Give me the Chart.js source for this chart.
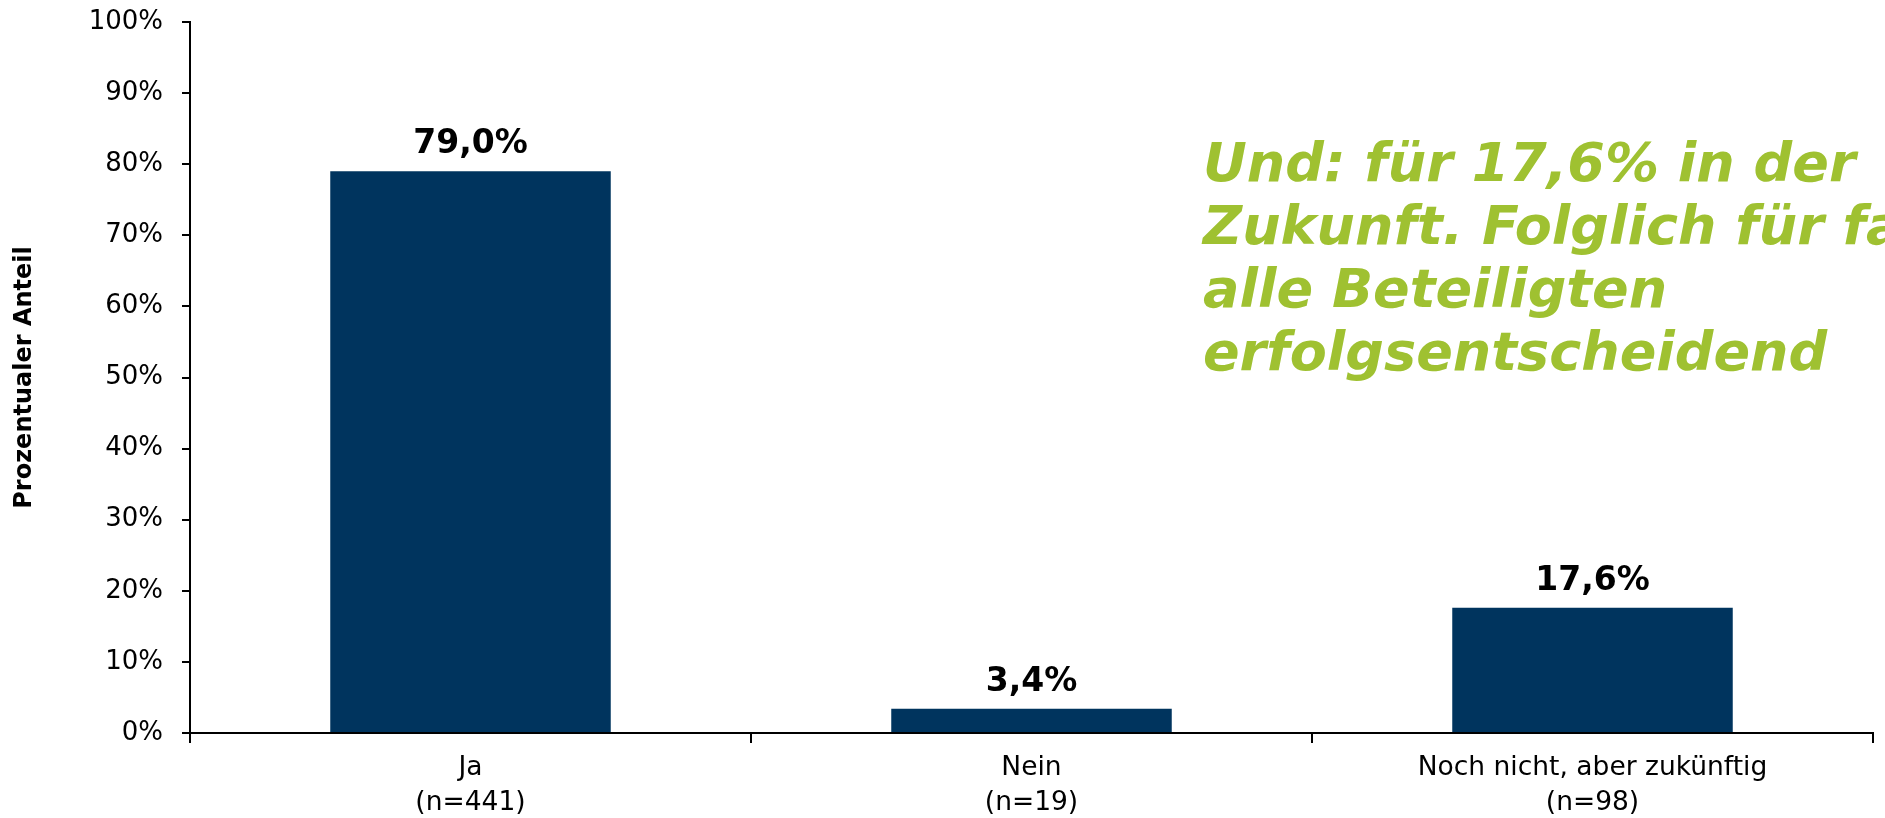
<!DOCTYPE html>
<html>
<head>
<meta charset="utf-8">
<script src="https://cdn.jsdelivr.net/npm/chart.js@4"></script>
<style>
  html, body { margin: 0; padding: 0; background: #fff; }
  #wrap { width: 1885px; height: 818px; }
</style>
</head>
<body>
<div id="wrap"><canvas id="chart" width="1885" height="818"></canvas></div>
<script>
const categories = [['Ja', '(n=441)'], ['Nein', '(n=19)'], ['Noch nicht, aber zukünftig', '(n=98)']];
const shares = [79.0, 3.4, 17.6];
const shareLabels = ['79,0%', '3,4%', '17,6%'];
const noteLines = ['Und: für 17,6% in der', 'Zukunft. Folglich für fast', 'alle Beteiligten', 'erfolgsentscheidend'];

const FONT = '"DejaVu Sans", Verdana, sans-serif';

// value labels above the bars
const valueLabels = {
  id: 'valueLabels',
  afterDatasetsDraw(chart) {
    const ctx = chart.ctx;
    const meta = chart.getDatasetMeta(0);
    ctx.save();
    ctx.font = 'bold 33px ' + FONT;
    ctx.fillStyle = '#000';
    ctx.textAlign = 'center';
    ctx.textBaseline = 'alphabetic';
    meta.data.forEach((bar, i) => {
      ctx.fillText(shareLabels[i], bar.x, bar.y - 18);
    });
    ctx.restore();
  }
};

// green remark in the upper right
const note = {
  id: 'note',
  afterDraw(chart) {
    const ctx = chart.ctx;
    ctx.save();
    ctx.font = 'italic bold 54px ' + FONT;
    ctx.fillStyle = '#9fc131';
    ctx.textAlign = 'left';
    ctx.textBaseline = 'alphabetic';
    noteLines.forEach((line, i) => {
      ctx.fillText(line, 1203, 181 + i * 63);
    });
    ctx.restore();
  }
};

new Chart(document.getElementById('chart'), {
  type: 'bar',
  data: {
    labels: categories,
    datasets: [{
      data: shares,
      backgroundColor: '#00345e',
      barPercentage: 0.5,
      categoryPercentage: 1.0
    }]
  },
  options: {
    responsive: false,
    animation: false,
    layout: { padding: { top: 22, right: 12, left: 0, bottom: 0 } },
    plugins: {
      legend: { display: false },
      tooltip: { enabled: false }
    },
    scales: {
      x: {
        offset: true,
        grid: { offset: true, drawOnChartArea: false, tickLength: 10, color: '#000', lineWidth: 2 },
        border: { color: '#000', width: 2 },
        ticks: {
          color: '#000',
          font: { family: FONT, size: 26.5, lineHeight: 1.3 },
          padding: 8,
          maxRotation: 0
        },
        afterFit(scale) { scale.height = 85; }
      },
      y: {
        min: 0,
        max: 100,
        grid: { drawOnChartArea: false, tickLength: 8, color: '#000', lineWidth: 2 },
        border: { color: '#000', width: 2 },
        ticks: {
          stepSize: 10,
          color: '#000',
          padding: 19,
          font: { family: FONT, size: 26 },
          callback: v => v + '%'
        },
        title: {
          display: true,
          text: 'Prozentualer Anteil',
          color: '#000',
          font: { family: FONT, size: 24, weight: 'bold' },
          padding: { top: 10, bottom: 0 }
        },
        afterFit(scale) {
          scale.width = 190;
          scale.paddingTop = 0;
          scale.paddingBottom = 0;
        }
      }
    }
  },
  plugins: [valueLabels, note]
});
</script>
</body>
</html>
